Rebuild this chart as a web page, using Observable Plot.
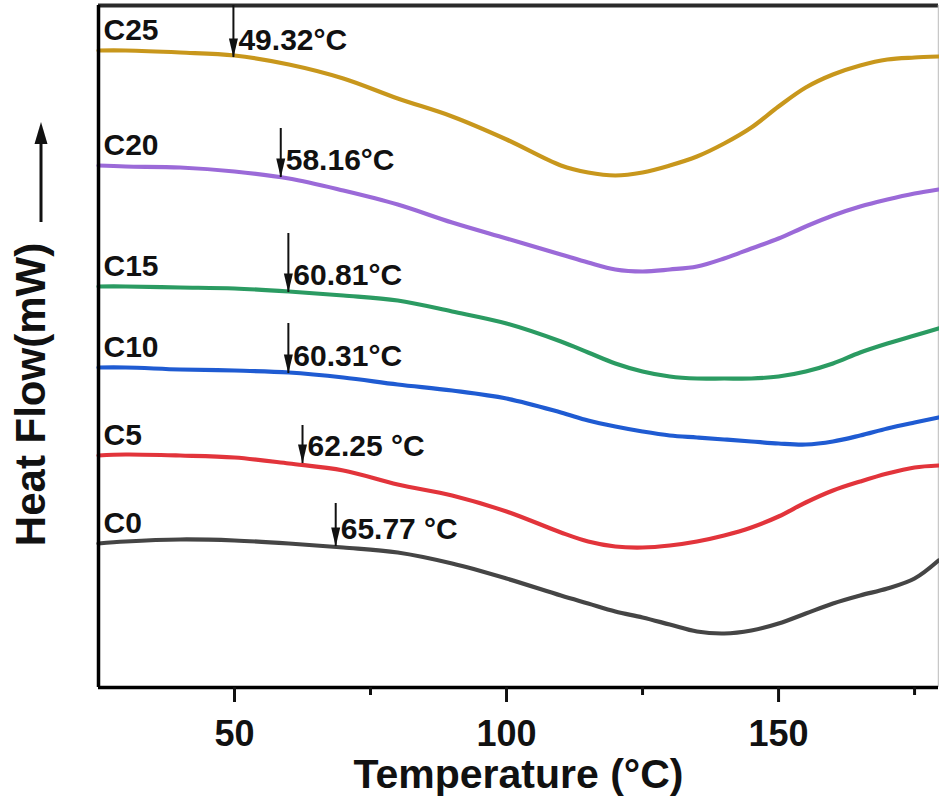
<!DOCTYPE html>
<html>
<head>
<meta charset="utf-8">
<script src="https://cdn.jsdelivr.net/npm/d3@7"></script>
<script src="https://cdn.jsdelivr.net/npm/@observablehq/plot@0.6"></script>
<style>
  html, body { margin: 0; padding: 0; background: #fff; }
  #chart svg { display: block; }
</style>
</head>
<body>
<div id="chart"></div>
<script>
// Temperatures (°C) at which the curves were read
const temps = [25, 30, 40, 50, 60, 70, 80, 90, 100, 110, 115, 120, 125, 130, 135, 140, 145, 150, 155, 160, 165, 170, 175, 179.4];

// Heat flow (stacked, arbitrary offset units)
const c25 = [63.7, 63.7, 63.5, 63.2, 62.3, 60.9, 58.9, 57.1, 54.8, 52.2, 51.5, 51.2, 51.5, 52.2, 53.1, 54.4, 56.0, 58.1, 60.0, 61.3, 62.2, 62.8, 63.0, 63.1];
const c20 = [52.2, 52.1, 52.0, 51.6, 50.9, 49.7, 48.3, 46.5, 44.9, 43.3, 42.5, 41.8, 41.6, 41.8, 42.1, 42.9, 43.9, 44.9, 46.1, 47.2, 48.1, 48.8, 49.4, 49.8];
const c15 = [40.1, 40.1, 40.0, 39.9, 39.6, 39.2, 38.7, 37.6, 36.4, 34.6, 33.5, 32.4, 31.6, 31.1, 30.9, 30.9, 30.9, 31.1, 31.6, 32.4, 33.5, 34.4, 35.2, 35.9];
const c10 = [32.0, 32.0, 31.8, 31.7, 31.5, 31.0, 30.3, 29.7, 28.9, 27.5, 26.7, 26.1, 25.6, 25.2, 25.0, 24.8, 24.6, 24.4, 24.3, 24.6, 25.2, 25.9, 26.5, 27.0];
const c5  = [23.2, 23.3, 23.2, 23.0, 22.4, 21.7, 20.3, 19.2, 17.6, 15.5, 14.6, 14.1, 14.0, 14.2, 14.6, 15.2, 16.0, 17.1, 18.5, 19.7, 20.6, 21.4, 22.0, 22.2];
const c0  = [14.4, 14.6, 14.8, 14.7, 14.4, 14.0, 13.5, 12.4, 10.9, 9.2, 8.4, 7.6, 7.0, 6.3, 5.6, 5.4, 5.7, 6.4, 7.4, 8.4, 9.2, 9.9, 10.9, 12.7];

const names  = ["C0", "C5", "C10", "C15", "C20", "C25"];
const series = [c0, c5, c10, c15, c20, c25];
const colors = ["#454545", "#E2343B", "#1F5BD2", "#2B9B62", "#9B6AD8", "#C8971C"];

// Glass-transition annotations
const tgLabels = ["65.77 °C", "62.25 °C", "60.31°C", "60.81°C", "58.16°C", "49.32°C"];
const arrowX   = [68.6, 62.5, 59.9, 59.9, 58.5, 49.8];
const arrowTop = [18.4, 26.2, 36.4, 45.4, 55.9, 68.2];
const arrowTip = [14.1, 22.4, 31.4, 39.5, 51.0, 63.0];

const xTicks = [50, 100, 150];
const xMinor = [75, 125, 175];
const xDomain = [25, 179.4];
const yDomain = [0, 68.2];

const lines = series.flatMap((s, i) => s.map((v, j) => ({name: names[i], T: temps[j], hf: v})));
const starts = series.map((s, i) => ({name: names[i], T: temps[0], hf: s[0]}));
const arrows = names.map((n, i) => ({name: n, x: arrowX[i], top: arrowTop[i], tip: arrowTip[i], label: tgLabels[i]}));

const headSymbol = {
  draw(ctx) {
    ctx.moveTo(0, 0);
    ctx.lineTo(-4.5, -19);
    ctx.lineTo(4.5, -19);
    ctx.closePath();
  }
};

const font = "'Liberation Sans', Arial, Helvetica, sans-serif";

const plot = Plot.plot({
  width: 939,
  height: 798,
  marginTop: 5,
  marginLeft: 98,
  marginRight: 1,
  marginBottom: 111,
  style: {fontFamily: font, background: "#fff", color: "#111"},
  x: {domain: xDomain, axis: null},
  y: {domain: yDomain, axis: null},
  color: {domain: names, range: colors},
  marks: [
    Plot.ruleY([yDomain[1]], {stroke: "#2a2a2a", strokeWidth: 4}),
    Plot.ruleX([xDomain[1]], {stroke: "#c8c8c8", strokeWidth: 1.5}),
    Plot.line(lines, {x: "T", y: "hf", z: "name", stroke: "name", strokeWidth: 4.2, curve: "catmull-rom"}),
    Plot.ruleX(arrows, {x: "x", y1: "top", y2: "tip", stroke: "#111", strokeWidth: 2}),
    Plot.dot(arrows, {x: "x", y: "tip", symbol: headSymbol, r: 5, fill: "#111", stroke: "none"}),
    Plot.text(arrows, {x: "x", y: "tip", text: "label", dx: 5, dy: -17, textAnchor: "start", lineAnchor: "middle", fontSize: 30, fontWeight: "bold", fill: "#111"}),
    Plot.text(starts, {x: "T", y: "hf", text: "name", dx: 5, dy: -20, textAnchor: "start", lineAnchor: "middle", fontSize: 30, fontWeight: "bold", fill: "#111"}),
    Plot.ruleX([xDomain[0]], {stroke: "#000", strokeWidth: 3.5}),
    Plot.ruleY([yDomain[0]], {stroke: "#000", strokeWidth: 3.5}),
    Plot.axisX({ticks: xTicks, tickSize: 15, tickPadding: 18, strokeWidth: 3, fontSize: 36, fontWeight: "bold", fill: "#111", label: null, tickFormat: d => String(d)}),
    Plot.axisX({ticks: xMinor, tickSize: 8, strokeWidth: 3, label: null, tickFormat: () => ""}),
    Plot.text(["Temperature (°C)"], {frameAnchor: "bottom", dy: 100, lineAnchor: "bottom", textAnchor: "middle", fontSize: 41, fontWeight: "bold", fill: "#111"}),
    Plot.text(["Heat Flow(mW)"], {frameAnchor: "left", dx: -67, dy: 48, rotate: -90, textAnchor: "middle", lineAnchor: "middle", fontSize: 42, fontWeight: "bold", fill: "#111"})
  ]
});

// Upward arrow beside the y-axis title
const svg = d3.select(plot);
svg.append("line")
  .attr("x1", 41).attr("x2", 41).attr("y1", 222).attr("y2", 140)
  .attr("stroke", "#111").attr("stroke-width", 3);
svg.append("path")
  .attr("d", "M41,122L34.5,144L47.5,144Z")
  .attr("fill", "#111");

document.getElementById("chart").appendChild(plot);
</script>
</body>
</html>
